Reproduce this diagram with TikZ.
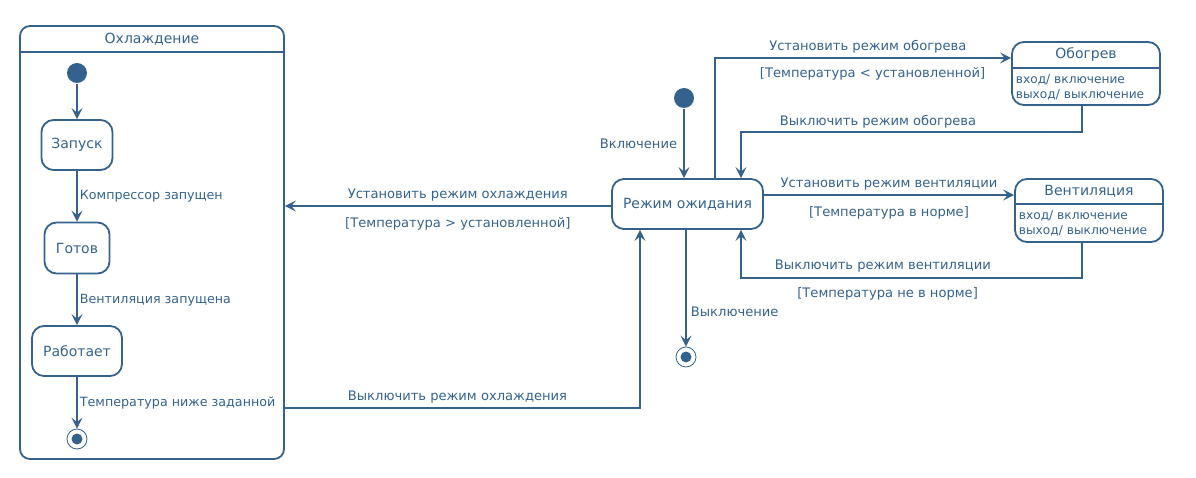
\documentclass[tikz,border=0pt]{standalone}
\usepackage{fontspec}
\setmainfont{DejaVu Sans}
\usetikzlibrary{arrows.meta}
\definecolor{umlblue}{RGB}{52,98,140}
\begin{document}
\begin{tikzpicture}[x=1pt,y=-1pt,color=umlblue,line width=1.8pt,
  font=\fontsize{13.1}{15}\selectfont,
  st/.style={draw,rounded corners=12pt,minimum height=50pt,inner sep=0pt,font=\fontsize{14}{16}\selectfont},
  ttl/.style={font=\fontsize{14}{16}\selectfont},
  init/.style={circle,fill,minimum size=20pt,inner sep=0pt},
  final/.style={circle,draw,line width=0.8pt,minimum size=20pt,inner sep=0pt},
  tr/.style={-{Stealth[length=11pt,width=11pt,inset=4.5pt]}},
  up/.style={above,inner sep=4pt},
  dn/.style={below,inner sep=10.5pt},
  rt/.style={right,inner sep=2pt,font=\fontsize{12.7}{15}\selectfont},
  acts/.style={anchor=west,align=left,inner sep=0pt,font=\fontsize{12.2}{15}\selectfont}]
\useasboundingbox (0,0) rectangle (1196,478);
\node[draw,rounded corners=10pt,minimum width=264pt,minimum height=433pt] (cool) at (152,242.5) {};
\node[ttl] at (152,39) {Охлаждение};
\draw (cool.west |- 0,52) -- (cool.east |- 0,52);
\node[init] (i1) at (77,73) {};
\node[st,minimum width=71pt] (start) at (77,145) {Запуск};
\node[st,minimum width=65pt,minimum height=51pt] (ready) at (77,248) {Готов};
\node[st,minimum width=90pt] (run) at (77,351) {Работает};
\node[final] (f1) at (77,439) {};
\fill (f1.center) circle (5.5pt);
\draw[tr] (i1) -- (start);
\draw[tr] (start) -- (ready) node[midway,rt]{Компрессор запущен};
\draw[tr] (ready) -- (run) node[midway,rt]{Вентиляция запущена};
\draw[tr] (run) -- (f1) node[midway,rt]{Температура ниже заданной};
\node[st,minimum width=151pt] (wait) at (687.5,204) {Режим ожидания};
\node[init] (i2) at (684,98) {};
\node[final] (f2) at (686,357) {};
\fill (f2.center) circle (5.5pt);
\draw[tr] (i2) -- (i2 |- wait.north) node[midway,left,inner sep=6pt]{Включение};
\draw[tr] (wait.south -| f2) -- (f2) node[pos=0.7,right,inner sep=4pt]{Выключение};
\draw[tr] (wait.west |- 0,206) -- (cool.east |- 0,206)
  node[pos=0.47,up]{Установить режим охлаждения}
  node[pos=0.47,dn]{[Температура > установленной]};
\draw[tr] (cool.east |- 0,408) -| (wait.south -| 640,0)
  node[pos=0.243,up]{Выключить режим охлаждения};
\node[draw,rounded corners=12pt,minimum width=148pt,minimum height=63pt] (heat) at (1086,73.5) {};
\node[ttl] at (1086,55) {Обогрев};
\draw (heat.west |- 0,68) -- (heat.east |- 0,68);
\node[acts] (heatacts) at (1015,87.5) {вход/ включение\\выход/ выключение};
\node[draw,rounded corners=12pt,minimum width=148pt,minimum height=63pt] (vent) at (1089,210.5) {};
\node[ttl] at (1089,191) {Вентиляция};
\draw (vent.west |- 0,204) -- (vent.east |- 0,204);
\node[acts] (ventacts) at (1018,223.5) {вход/ включение\\выход/ выключение};
\draw[tr] (wait.north -| 715,0) |- (heat.west |- 0,58)
  node[pos=0.758,up]{Установить режим обогрева}
  node[pos=0.766,dn,inner sep=9pt]{[Температура < установленной]};
\draw[tr] (heat.south -| 1082,0) -- ++(0,26) -| (wait.north -| 741,0)
  node[pos=0.299,up,inner sep=3pt]{Выключить режим обогрева};
\draw[tr] (wait.east |- 0,195) -- (vent.west |- 0,195)
  node[midway,up]{Установить режим вентиляции}
  node[midway,dn]{[Температура в норме]};
\draw[tr] (vent.south -| 1082,0) -- ++(0,35) -| (wait.south -| 741,0)
  node[pos=0.292,up,inner sep=5pt]{Выключить режим вентиляции}
  node[pos=0.285,dn,inner sep=9pt]{[Температура не в норме]};
\end{tikzpicture}
\end{document}
